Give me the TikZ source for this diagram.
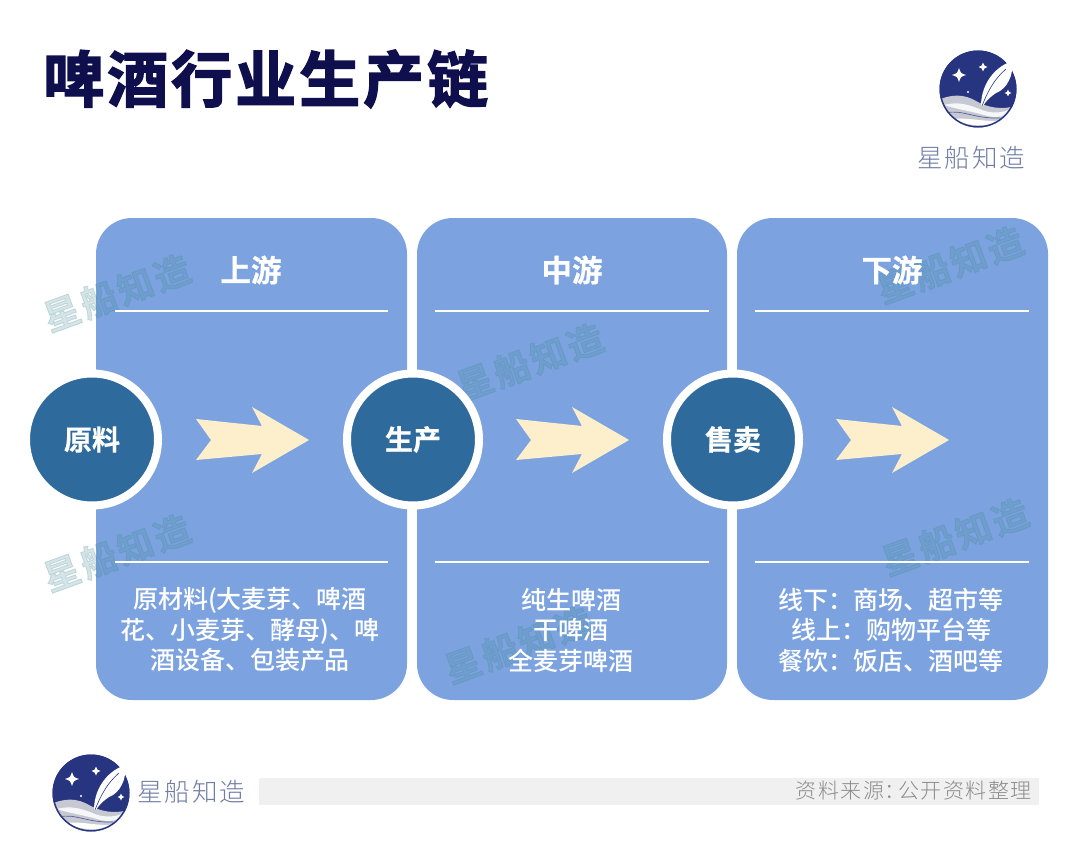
\documentclass[tikz,border=0pt]{standalone}
\usepackage{fontspec}
\setmainfont{Noto Sans CJK SC}
\newfontfamily\cjkbold[FakeBold=2.4]{Noto Sans CJK SC Bold}
\newfontfamily\cjkhead[FakeBold=.6]{Noto Sans CJK SC Bold}
\newfontfamily\cjkmed{Noto Sans CJK SC Medium}
\newfontfamily\cjklight{Noto Sans CJK SC Light}
\usetikzlibrary{calc}
\definecolor{panelblue}{HTML}{7CA3DF}
\definecolor{discblue}{HTML}{2E6A9C}
\definecolor{arrowcream}{HTML}{FDEFCB}
\definecolor{titlenavy}{HTML}{0F0F4D}
\definecolor{logonavy}{HTML}{27347F}
\definecolor{brandgrey}{HTML}{6F7DA3}
\definecolor{wmteal}{HTML}{408896}
\definecolor{wavegrey}{HTML}{C6C9D2}
\newcommand{\spark}[3]{\fill[white] (#1-#3,#2) .. controls (#1-.25*#3,#2-.25*#3) .. (#1,#2-#3) .. controls (#1+.25*#3,#2-.25*#3) .. (#1+#3,#2) .. controls (#1+.25*#3,#2+.25*#3) .. (#1,#2+#3) .. controls (#1-.25*#3,#2+.25*#3) .. (#1-#3,#2) -- cycle;}
\newcommand{\starlogo}[2]{%
\begin{scope}[shift={(#1,#2)}]
\fill[logonavy] (0,0) circle (38.5);
\begin{scope}
\clip (0,0) circle (38.5);
\fill[wavegrey] (-40,11) .. controls (-26,5) and (-14,5) .. (-2,12) .. controls (8,18) and (24,22) .. (40,16) -- (40,50) -- (-40,50) -- cycle;
\fill[white!85!wavegrey] (-34,16) .. controls (-20,12) and (-8,16) .. (4,21) .. controls (14,25) and (26,24) .. (36,19) .. controls (30,28) and (18,30) .. (6,26) .. controls (-8,22) and (-22,20) .. (-34,16) -- cycle;
\draw[logonavy!70!wavegrey,line width=.7] (-32,24) .. controls (-16,20) and (-4,30) .. (22,29);
\fill[white] (-24,30) .. controls (-8,28) and (8,34) .. (24,31) .. controls (14,38) and (-12,38) .. (-24,30) -- cycle;
\end{scope}
\draw[logonavy,line width=1.4] (0,0) circle (37.8);
\fill[white] (3,17) .. controls (3,0) and (12,-20) .. (34,-28) .. controls (36,-14) and (29,0) .. (18,4) .. controls (12,8) and (8,12) .. (5,17) -- cycle;
\draw[logonavy,line width=.6] (4,17) .. controls (9,4) and (16,-10) .. (28,-20);
\spark{-19}{-14}{7}
\spark{5}{-22}{4.5}
\spark{30}{4}{3.5}
\fill[white] (-10,3) circle (1.2);
\end{scope}}
\newcommand{\arrowshape}[1]{\fill[arrowcream,shift={(#1,0)}] (196,419) -- (262,426) -- (252,407) -- (309,440) -- (252,473) -- (262,454) -- (196,460) -- (211,440) -- cycle;}
\tikzset{
  panel/.style={fill=panelblue,rounded corners=36},
  rulewhite/.style={draw=white,line width=1.4},
  disc/.style={circle,fill=discblue,draw=white,line width=8,minimum size=132,inner sep=0,text=white,font=\cjkhead\fontsize{28}{28}\selectfont},
  head/.style={text=white,font=\cjkhead\fontsize{30.5}{30.5}\selectfont},
  body/.style={text=white,align=center,font=\cjkmed\fontsize{25}{30.5}\selectfont},
  watermark/.style={text=wmteal,text opacity=.22,rotate=20,font=\cjkbold\fontsize{36}{36}\selectfont},
  brand/.style={text=brandgrey,font=\cjklight\fontsize{25.5}{25.5}\selectfont},
  titletext/.style={text=titlenavy,font=\cjkbold\fontsize{61}{61}\selectfont}
}
\begin{document}
\begin{tikzpicture}[x=1pt,y=-1pt]
\useasboundingbox (0,0) rectangle (1080,867);
\fill[white] (0,0) rectangle (1080,867);
\node[titletext,anchor=west,inner sep=0] (title) at (43,79) {啤\hspace{3pt}酒\hspace{3pt}行\hspace{3pt}业\hspace{3pt}生\hspace{3pt}产\hspace{3pt}链};
\starlogo{978}{89}
\node[brand,inner sep=0] (brandtop) at (971.5,158) {星\hspace{2pt}船\hspace{2pt}知\hspace{2pt}造};
\fill[panel] (96,218) rectangle (407,700);
\fill[panel] (417,218) rectangle (727,700);
\fill[panel] (737,218) rectangle (1048,700);
\foreach \n/\wx/\wy in {w1/117/293,w2/530/362,w3/950/265,w4/117/553,w5/518/645,w6/955/537}{
  \node[watermark] (\n) at (\wx,\wy) {星\hspace{3pt}船\hspace{3pt}知\hspace{3pt}造};
}
\foreach \p/\q in {115/388,435/709,755/1029}{
  \draw[rulewhite] (\p,311) -- (\q,311);
  \draw[rulewhite] (\p,562) -- (\q,562);
}
\node[head] (h1) at (251,270) {上游};
\node[head] (h2) at (572,270) {中游};
\node[head] (h3) at (892,270) {下游};
\arrowshape{0}
\arrowshape{320}
\arrowshape{640}
\node[disc] (d1) at (92,439.5) {原料};
\node[disc] (d2) at (413,439.5) {生产};
\node[disc] (d3) at (733,439.5) {售卖};
\node[body] (b1) at (250,630) {原材料(大麦芽、啤酒\\花、小麦芽、酵母)、啤\\酒设备、包装产品};
\node[body] (b2) at (571,630) {纯生啤酒\\干啤酒\\全麦芽啤酒};
\node[body] (b3) at (891,630) {线下：商场、超市等\\线上：购物平台等\\餐饮：饭店、酒吧等};
\fill[black!6] (259,778) rectangle (1039,805);
\node[text=black!45,anchor=east,inner sep=0,font=\cjklight\fontsize{21}{21}\selectfont] (source) at (1032,791) {资\hspace{1.5pt}料\hspace{1.5pt}来\hspace{1.5pt}源：\hspace{-7pt}公\hspace{1.5pt}开\hspace{1.5pt}资\hspace{1.5pt}料\hspace{1.5pt}整\hspace{1.5pt}理};
\starlogo{91}{793}
\node[brand,anchor=west,inner sep=0] (brandbot) at (137,792) {星\hspace{2pt}船\hspace{2pt}知\hspace{2pt}造};
\end{tikzpicture}
\end{document}
